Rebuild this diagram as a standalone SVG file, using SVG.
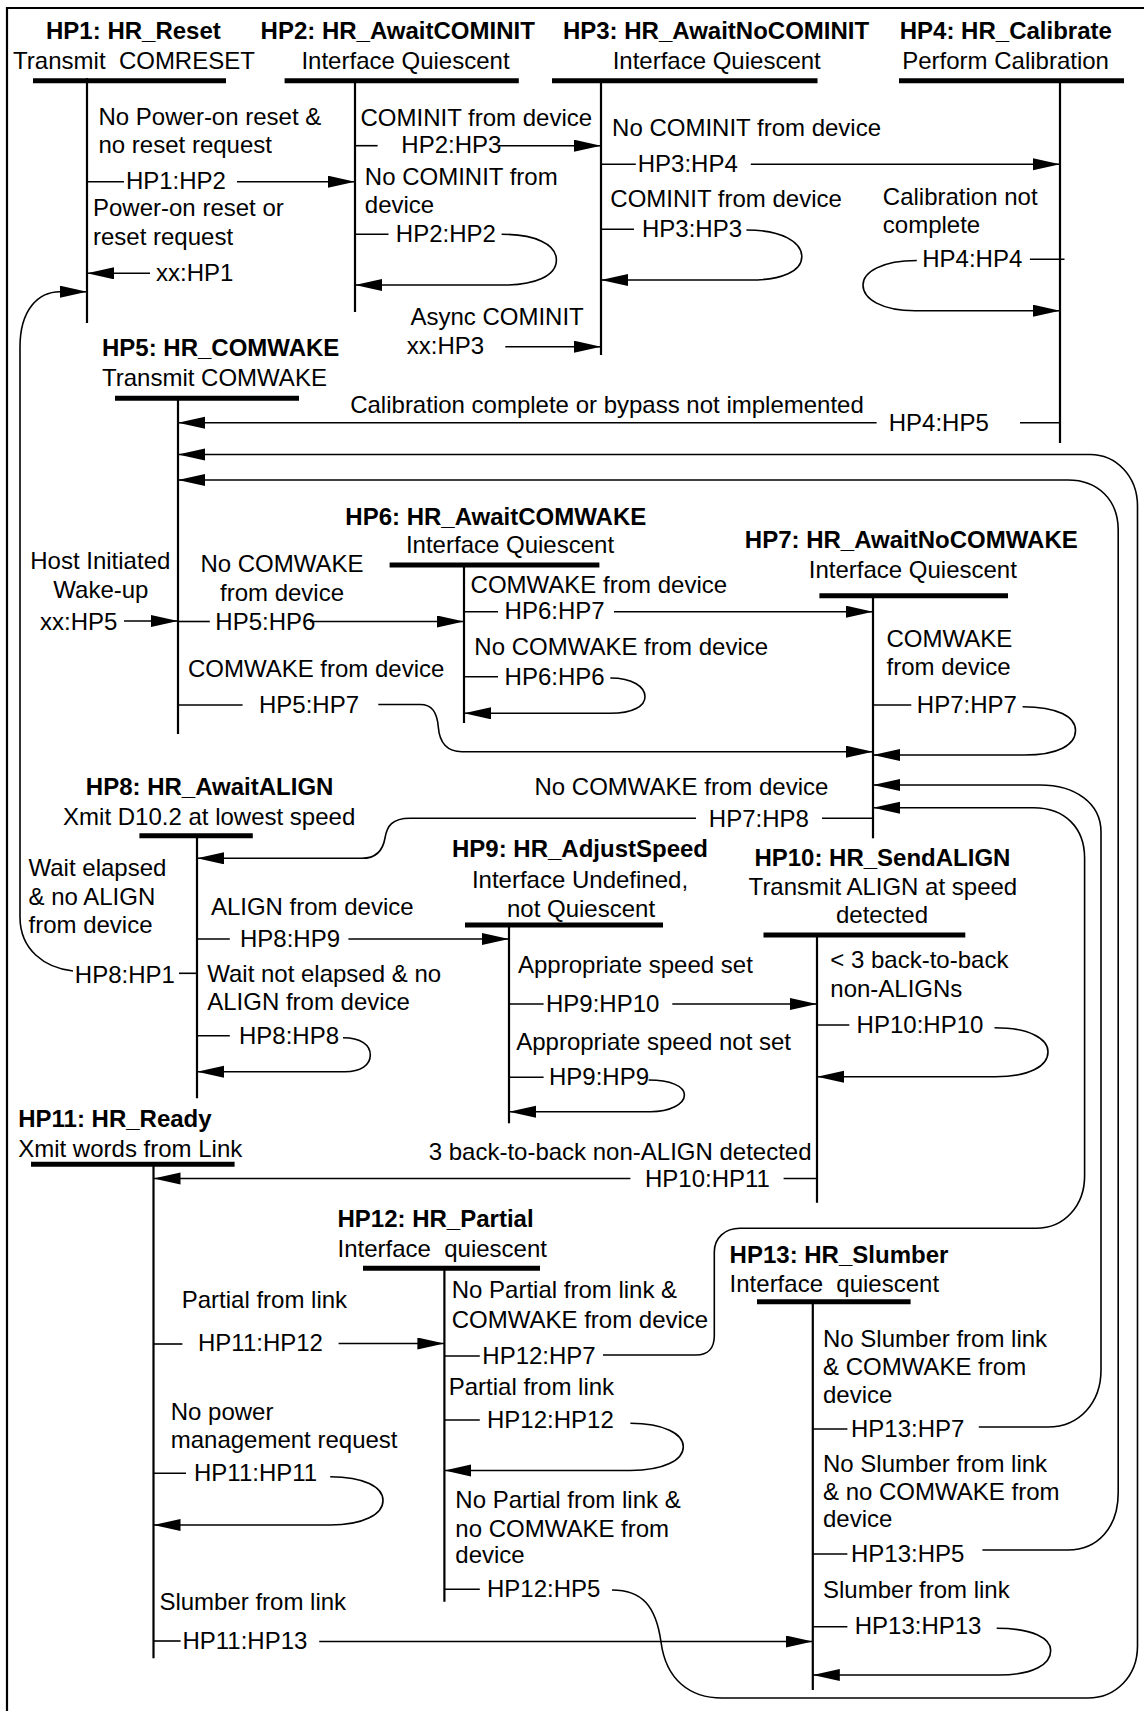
<svg xmlns="http://www.w3.org/2000/svg" width="1144" height="1711" viewBox="0 0 1144 1711">
<style>
text{font-family:"Liberation Sans",Arial,sans-serif;font-size:24px;fill:#000}
.b{font-weight:bold}
.m{text-anchor:middle}
.v{stroke:#000;stroke-width:2.2;fill:none}
.bar{stroke:#000;stroke-width:5}
.c{fill:none;stroke:#000;stroke-width:1.6}
.a{marker-end:url(#ah)}
</style>
<defs>
<marker id="ah" markerWidth="28" markerHeight="13" refX="27" refY="6" orient="auto" markerUnits="userSpaceOnUse">
<path d="M0,0 L27,6 L0,12 z" fill="#000"/>
</marker>
</defs>
<rect width="1144" height="1711" fill="#fff"/>
<g id="frame"><path d="M1144,8 H7 V1711" class="v" stroke-width="2"/></g>

<g id="HP1">
<text class="b m" x="133.4" y="39">HP1: HR_Reset</text>
<text class="m" x="134" y="69">Transmit&#160; COMRESET</text>
<line class="bar" x1="33" y1="80.7" x2="226" y2="80.7"/>
<line class="v" x1="87" y1="78" x2="87" y2="323"/>
</g>
<g id="HP2">
<text class="b m" x="397.7" y="39">HP2: HR_AwaitCOMINIT</text>
<text class="m" x="405.5" y="69">Interface Quiescent</text>
<line class="bar" x1="284.6" y1="80.7" x2="518.8" y2="80.7"/>
<line class="v" x1="355" y1="81" x2="355" y2="312"/>
</g>
<g id="HP3">
<text class="b m" x="716" y="39">HP3: HR_AwaitNoCOMINIT</text>
<text class="m" x="716.7" y="69">Interface Quiescent</text>
<line class="bar" x1="552" y1="80.7" x2="817.5" y2="80.7"/>
<line class="v" x1="601" y1="81" x2="601" y2="355"/>
</g>
<g id="HP4">
<text class="b m" x="1005.8" y="39">HP4: HR_Calibrate</text>
<text class="m" x="1005.6" y="69">Perform Calibration</text>
<line class="bar" x1="899" y1="80.7" x2="1124" y2="80.7"/>
<line class="v" x1="1060" y1="81" x2="1060" y2="443"/>
</g>
<g id="HP5">
<text class="b" x="102" y="356">HP5: HR_COMWAKE</text>
<text x="102" y="386">Transmit COMWAKE</text>
<line class="bar" x1="115" y1="398.3" x2="299" y2="398.3"/>
<line class="v" x1="178" y1="396" x2="178" y2="734"/>
</g>
<g id="HP6">
<text class="b m" x="495.8" y="525">HP6: HR_AwaitCOMWAKE</text>
<text class="m" x="510" y="553.3">Interface Quiescent</text>
<line class="bar" x1="389.6" y1="565" x2="599.4" y2="565"/>
<line class="v" x1="464" y1="566" x2="464" y2="723"/>
</g>
<g id="HP7">
<text class="b m" x="911.3" y="548.3">HP7: HR_AwaitNoCOMWAKE</text>
<text class="m" x="912.8" y="578.3">Interface Quiescent</text>
<line class="bar" x1="819.4" y1="595.7" x2="1008" y2="595.7"/>
<line class="v" x1="873" y1="596" x2="873" y2="838.3"/>
</g>
<g id="HP8">
<text class="b m" x="209.6" y="795">HP8: HR_AwaitALIGN</text>
<text class="m" x="209.2" y="825">Xmit D10.2 at lowest speed</text>
<line class="bar" x1="139.4" y1="835.7" x2="252.8" y2="835.7"/>
<line class="v" x1="197" y1="836" x2="197" y2="1098.3"/>
</g>
<g id="HP9">
<text class="b m" x="580" y="857">HP9: HR_AdjustSpeed</text>
<text class="m" x="580" y="888.3">Interface Undefined,</text>
<text class="m" x="581" y="916.7">not Quiescent</text>
<line class="bar" x1="465" y1="925" x2="663" y2="925"/>
<line class="v" x1="509" y1="925" x2="509" y2="1123.3"/>
</g>
<g id="HP10">
<text class="b m" x="882.4" y="866">HP10: HR_SendALIGN</text>
<text class="m" x="882.9" y="895">Transmit ALIGN at speed</text>
<text class="m" x="882" y="923.3">detected</text>
<line class="bar" x1="763.5" y1="935" x2="965.3" y2="935"/>
<line class="v" x1="817" y1="935" x2="817" y2="1202.7"/>
</g>
<g id="HP11">
<text class="b" x="18.2" y="1126.7">HP11: HR_Ready</text>
<text x="18.2" y="1156.7">Xmit words from Link</text>
<line class="bar" x1="31" y1="1164.3" x2="234.6" y2="1164.3"/>
<line class="v" x1="153.5" y1="1164" x2="153.5" y2="1658.3"/>
</g>
<g id="HP12">
<text class="b" x="337.5" y="1226.7">HP12: HR_Partial</text>
<text x="337.5" y="1256.7">Interface&#160; quiescent</text>
<line class="bar" x1="363" y1="1268.3" x2="540" y2="1268.3"/>
<line class="v" x1="444.4" y1="1268" x2="444.4" y2="1601.7"/>
</g>
<g id="HP13">
<text class="b" x="729.6" y="1263.3">HP13: HR_Slumber</text>
<text x="729.6" y="1291.5">Interface&#160; quiescent</text>
<line class="bar" x1="757" y1="1301.7" x2="910.6" y2="1301.7"/>
<line class="v" x1="812.8" y1="1301" x2="812.8" y2="1690"/>
</g>

<g id="connectors">
<!-- HP1:HP2 -->
<path class="c" d="M87,181.7 H124"/>
<path class="c a" d="M237,181.7 H355"/>
<!-- xx:HP1 -->
<path class="c a" d="M150,273.3 H87"/>
<!-- HP8:HP1 -->
<path class="c" d="M197,973.3 H179"/>
<path class="c a" d="M73,971 C45,968 20,950 20,917 V347 C20,310 38,291.7 60,291.7 H87"/>
<!-- HP2:HP3 -->
<path class="c" d="M355,145.7 H377.6"/>
<path class="c a" d="M499,145.7 H601"/>
<!-- HP2:HP2 -->
<path class="c" d="M355,234.3 H388.5"/>
<path class="c a" d="M501.6,234.3 C535,234.3 556.4,244 556.4,260 C556.4,276 535,285 503.4,285 L355,285"/>
<!-- xx:HP3 -->
<path class="c a" d="M505.3,346.7 H601"/>
<!-- HP3:HP4 -->
<path class="c" d="M601,164.3 H635.8"/>
<path class="c a" d="M750.8,164.3 H1060"/>
<!-- HP3:HP3 -->
<path class="c" d="M601,229.3 H634"/>
<path class="c a" d="M746.4,230 C782,230 801.8,242 801.8,256.7 C801.8,271 782,280 750.8,280 L601,280"/>
<!-- HP4:HP4 -->
<path class="c" d="M1064.5,259.3 H1029.9"/>
<path class="c a" d="M916.8,260.5 C882,260.5 863,272 863,285 C863,299 882,310.7 915,310.7 L1060,310.7"/>
<!-- HP4:HP5 -->
<path class="c" d="M1060,422.7 H1020"/>
<path class="c a" d="M876.6,422.7 H178"/>
<!-- xx:HP5 -->
<path class="c a" d="M124,621 H178"/>
<!-- HP5:HP6 -->
<path class="c" d="M178,621.5 H209.8"/>
<path class="c a" d="M310,621.5 H464"/>
<!-- HP5:HP7 -->
<path class="c" d="M178,705 H242.6"/>
<path class="c a" d="M378.3,704.5 H420 C432,704.5 437,712 438.3,727 C439.5,742 446,751.7 462,751.7 H873"/>
<!-- HP6:HP7 -->
<path class="c" d="M464,611.7 H498"/>
<path class="c a" d="M614,611.7 H873"/>
<!-- HP6:HP6 -->
<path class="c" d="M464,676.7 H498"/>
<path class="c a" d="M610.3,678 C633,678 645,687 645,696.7 C645,706 633,713.3 610.3,713.3 L464,713.3"/>
<!-- HP7:HP7 -->
<path class="c" d="M873,705 H911.3"/>
<path class="c a" d="M1022.6,706.7 C1058,706.7 1075.5,717 1075.5,730.5 C1075.5,745 1058,755 1024.4,755 L873,755"/>
<!-- HP7:HP8 -->
<path class="c" d="M873,818.3 H822"/>
<path class="c a" d="M696,818.3 H410 C392,818.3 387,826 385,838 C383,850 377,858.3 362,858.3 H197"/>
<!-- HP8:HP9 -->
<path class="c" d="M197,939 H229.8"/>
<path class="c a" d="M348.4,939 H509"/>
<!-- HP8:HP8 -->
<path class="c" d="M197,1035.7 H229.8"/>
<path class="c a" d="M343,1037.7 C361,1037.7 370.3,1045 370.3,1055 C370.3,1065 361,1071.7 344.8,1071.7 L197,1071.7"/>
<!-- HP9:HP10 -->
<path class="c" d="M509,1004 H543.6"/>
<path class="c a" d="M672.3,1004 H817"/>
<!-- HP9:HP9 -->
<path class="c" d="M509,1077.3 H543.6"/>
<path class="c a" d="M648.6,1080 C670,1080 684.4,1086 684.4,1095 C684.4,1104 670,1111.7 650.4,1111.7 L509,1111.7"/>
<!-- HP10:HP10 -->
<path class="c" d="M817,1025 H849.3"/>
<path class="c a" d="M994.5,1027.7 C1030,1027.7 1048,1039 1048,1051.7 C1048,1066 1030,1076.7 995.2,1076.7 L817,1076.7"/>
<!-- HP10:HP11 -->
<path class="c" d="M817,1178.5 H783.6"/>
<path class="c a" d="M630.4,1178.5 H153.5"/>
<!-- HP11:HP12 -->
<path class="c" d="M153.5,1344 H182.4"/>
<path class="c a" d="M338.6,1343.5 H444.4"/>
<!-- HP11:HP11 -->
<path class="c" d="M153.5,1473.3 H186"/>
<path class="c a" d="M330.2,1476.7 C364,1476.7 383,1487 383,1500.5 C383,1514 364,1525 330.2,1525 L153.5,1525"/>
<!-- HP11:HP13 -->
<path class="c" d="M153.5,1641 H180.6"/>
<path class="c a" d="M319.2,1641.5 H812.8"/>
<!-- HP12:HP7 -->
<path class="c" d="M444.4,1356 H479.8"/>
<path class="c a" d="M603,1355 H696 C708,1355 714.3,1348 714.3,1336 V1252 C714.3,1238 725,1228.3 740,1228.3 H1036 C1065,1228.3 1084.6,1205 1084.6,1176 V858 C1084.6,828 1065,807.7 1033.5,807.7 H873"/>
<!-- HP12:HP12 -->
<path class="c" d="M444.4,1420 H479.8"/>
<path class="c a" d="M630.4,1423.3 C664,1423.3 683.3,1434 683.3,1446.7 C683.3,1460 664,1470.5 630.4,1470.5 L444.4,1470.5"/>
<!-- HP12:HP5 -->
<path class="c" d="M444.4,1589.3 H479.8"/>
<path class="c a" d="M612,1590 C642,1590 656,1606 661,1642 C666,1680 690,1698 722,1698 H1088 C1116,1698 1137.5,1676 1137.5,1646 V506 C1137.5,476 1116,454.5 1090,454.5 H178"/>
<!-- HP13:HP7 -->
<path class="c" d="M812.8,1429 H847.4"/>
<path class="c a" d="M978.8,1427 H1048 C1080,1427 1101,1402 1101,1370 V832 C1101,803 1075,785 1040,785 H873"/>
<!-- HP13:HP5 -->
<path class="c" d="M812.8,1554 H847.4"/>
<path class="c a" d="M982.4,1550 H1068 C1098,1550 1118.2,1527 1118.2,1493 V530 C1118.2,500 1098,480 1068,480 H178"/>
<!-- HP13:HP13 -->
<path class="c" d="M812.8,1626.7 H847.4"/>
<path class="c a" d="M996.7,1628.3 C1034,1628.3 1050.7,1639 1050.7,1650.5 C1050.7,1664 1034,1675 998.9,1675 L812.8,1675"/>
</g>

<g id="labels">
<text x="98.5" y="125">No Power-on reset &amp;</text>
<text x="98.5" y="153.3">no reset request</text>
<text x="125.9" y="189">HP1:HP2</text>
<text x="93" y="216">Power-on reset or</text>
<text x="93" y="245">reset request</text>
<text x="156" y="280.5">xx:HP1</text>
<text x="360.5" y="126">COMINIT from device</text>
<text x="401.3" y="153">HP2:HP3</text>
<text x="364.8" y="185">No COMINIT from</text>
<text x="364.8" y="213.3">device</text>
<text x="395.8" y="241.5">HP2:HP2</text>
<text x="410.4" y="325">Async COMINIT</text>
<text x="406.8" y="354">xx:HP3</text>
<text x="612.1" y="136">No COMINIT from device</text>
<text x="637.7" y="171.5">HP3:HP4</text>
<text x="610.3" y="207.3">COMINIT from device</text>
<text x="642" y="236.5">HP3:HP3</text>
<text x="882.8" y="205">Calibration not</text>
<text x="882.8" y="233.3">complete</text>
<text x="922.2" y="267">HP4:HP4</text>
<text x="350.2" y="413.3">Calibration complete or bypass not implemented</text>
<text x="888.7" y="430.5">HP4:HP5</text>
<text class="m" x="100.3" y="569.3">Host Initiated</text>
<text class="m" x="100.9" y="598.3">Wake-up</text>
<text x="40.1" y="630">xx:HP5</text>
<text class="m" x="282" y="571.7">No COMWAKE</text>
<text class="m" x="282" y="600.7">from device</text>
<text x="215.3" y="630">HP5:HP6</text>
<text x="187.9" y="676.7">COMWAKE from device</text>
<text x="259" y="712.5">HP5:HP7</text>
<text x="470.6" y="593.3">COMWAKE from device</text>
<text x="504.6" y="619">HP6:HP7</text>
<text x="474.3" y="655">No COMWAKE from device</text>
<text x="504.6" y="684.5">HP6:HP6</text>
<text x="886.5" y="646.7">COMWAKE</text>
<text x="886.5" y="675">from device</text>
<text x="916.8" y="712.5">HP7:HP7</text>
<text x="534.5" y="795">No COMWAKE from device</text>
<text x="708.8" y="826.5">HP7:HP8</text>
<text x="28.5" y="876">Wait elapsed</text>
<text x="28.5" y="905">&amp; no ALIGN</text>
<text x="28.5" y="932.7">from device</text>
<text x="74.8" y="982.7">HP8:HP1</text>
<text x="210.9" y="915">ALIGN from device</text>
<text x="240" y="947">HP8:HP9</text>
<text x="207.2" y="981.7">Wait not elapsed &amp; no</text>
<text x="207.2" y="1010">ALIGN from device</text>
<text x="239" y="1043.5">HP8:HP8</text>
<text x="518" y="973.3">Appropriate speed set</text>
<text x="546" y="1012">HP9:HP10</text>
<text x="516.2" y="1050">Appropriate speed not set</text>
<text x="549" y="1085">HP9:HP9</text>
<text x="830.3" y="968.3">&lt; 3 back-to-back</text>
<text x="830.3" y="996.7">non-ALIGNs</text>
<text x="856.6" y="1032.5">HP10:HP10</text>
<text x="428.7" y="1160">3 back-to-back non-ALIGN detected</text>
<text x="645" y="1187">HP10:HP11</text>
<text x="181.7" y="1308.3">Partial from link</text>
<text x="198" y="1351">HP11:HP12</text>
<text x="170.7" y="1420">No power</text>
<text x="170.7" y="1448.3">management request</text>
<text x="194" y="1481">HP11:HP11</text>
<text x="159.4" y="1610">Slumber from link</text>
<text x="182.4" y="1649">HP11:HP13</text>
<text x="451.7" y="1298.3">No Partial from link &amp;</text>
<text x="451.7" y="1328.3">COMWAKE from device</text>
<text x="482.3" y="1363.5">HP12:HP7</text>
<text x="448.7" y="1395">Partial from link</text>
<text x="487" y="1427.5">HP12:HP12</text>
<text x="455.3" y="1508.3">No Partial from link &amp;</text>
<text x="455.3" y="1536.7">no COMWAKE from</text>
<text x="455.3" y="1563.3">device</text>
<text x="487" y="1597">HP12:HP5</text>
<text x="823" y="1346.7">No Slumber from link</text>
<text x="823" y="1375">&amp; COMWAKE from</text>
<text x="823" y="1403.3">device</text>
<text x="851" y="1436.5">HP13:HP7</text>
<text x="823" y="1471.7">No Slumber from link</text>
<text x="823" y="1500">&amp; no COMWAKE from</text>
<text x="823" y="1527.3">device</text>
<text x="851" y="1561.5">HP13:HP5</text>
<text x="823" y="1598.3">Slumber from link</text>
<text x="854.7" y="1634">HP13:HP13</text>
</g>
</svg>
